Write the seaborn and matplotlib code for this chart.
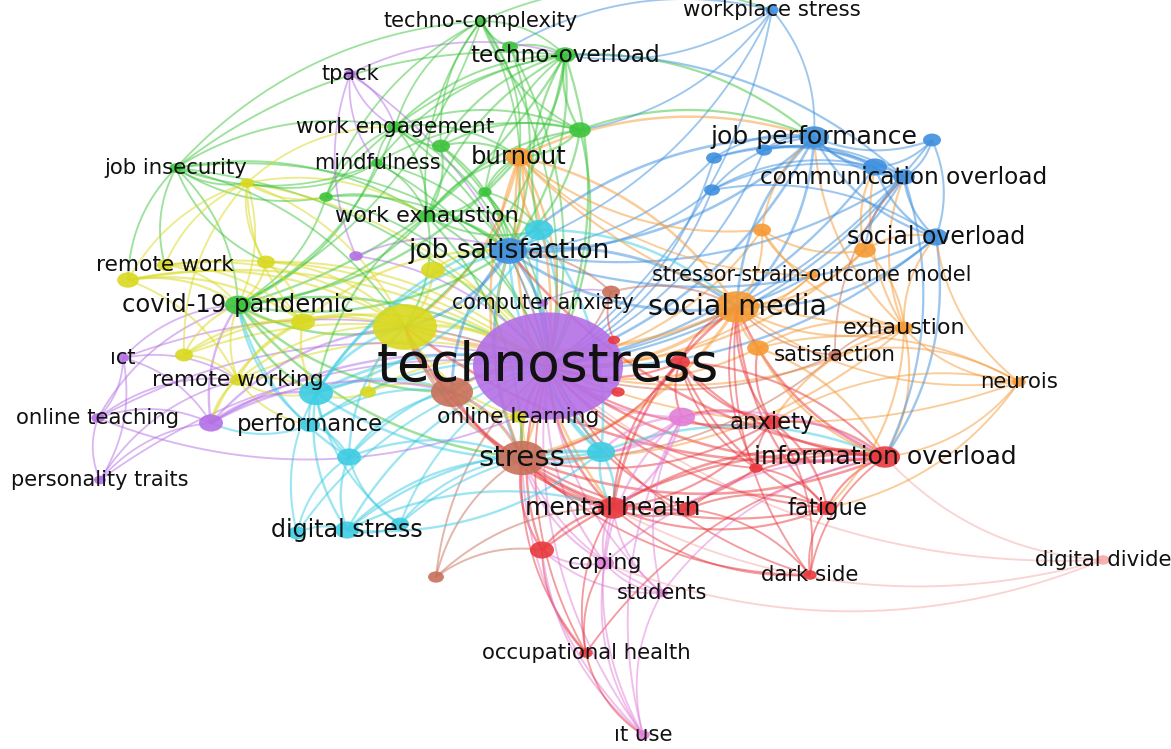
import numpy as np
import pandas as pd
import matplotlib
matplotlib.use("Agg")
import matplotlib.pyplot as plt
import seaborn as sns
from matplotlib.path import Path
from matplotlib.transforms import Affine2D
from matplotlib.collections import LineCollection

# ---------------- data ----------------
ids = ["T", "tc", "g1", "to", "we", "g2", "mf", "g3", "g4", "g5", "wx", "ji", "cv",
       "y1", "yb", "y2", "y3", "rw", "y4", "y5", "y6", "rwk", "y7", "ol",
       "tp", "p1", "ict", "ot", "p2", "pt", "ca",
       "c1", "c2", "pf", "c3", "c4", "c5", "ds", "c6",
       "ws", "js", "jp", "b1", "b2", "b3", "b4", "b5", "co", "so",
       "bo", "o1", "o2", "ss", "sm", "ex", "o3", "sat", "nr",
       "br1", "br2", "st", "br3",
       "r1", "r2", "r3", "ax", "pk1", "io", "r4", "mh", "r5", "fa", "r6", "dsd", "oh",
       "cp", "stu", "iu", "dd"]
labels = ["technostress", "techno-complexity", "", "techno-overload", "work engagement", "",
          "mindfulness", "", "", "", "work exhaustion", "job insecurity", "covid-19 pandemic",
          "", "", "", "", "remote work", "", "", "", "remote working", "", "online learning",
          "tpack", "", "\u0131ct", "online teaching", "", "personality traits", "computer anxiety",
          "", "", "performance", "", "", "", "digital stress", "",
          "workplace stress", "job satisfaction", "job performance", "", "", "", "", "",
          "communication overload", "social overload",
          "burnout", "", "", "stressor-strain-outcome model", "social media", "exhaustion", "",
          "satisfaction", "neurois",
          "", "", "stress", "",
          "", "", "", "anxiety", "", "information overload", "", "mental health", "", "fatigue",
          "", "dark side", "occupational health",
          "coping", "students", "\u0131t use", "digital divide"]
xs = [548, 481, 510, 565, 395, 441, 377, 580, 485, 326, 427, 176, 238,
      247, 405, 433, 266, 165, 128, 303, 184, 238, 368, 518,
      350, 356, 123, 98, 211, 100, 543,
      539, 316, 310, 349, 601, 297, 347, 400,
      772, 509, 814, 932, 764, 714, 712, 875, 904, 936,
      519, 762, 865, 812, 737, 904, 758, 835, 1019,
      611, 452, 522, 436,
      614, 618, 680, 772, 682, 885, 756, 613, 688, 827, 542, 810, 586,
      605, 662, 643, 1103]
ys = [366, 21, 47, 55, 127, 146, 163, 130, 192, 197, 216, 168, 305,
      183, 327, 270, 262, 265, 280, 322, 355, 380, 392, 417,
      74, 256, 358, 418, 423, 480, 303,
      230, 393, 425, 457, 452, 533, 530, 524,
      10, 251, 137, 140, 150, 158, 190, 167, 177, 237,
      157, 230, 250, 275, 307, 328, 348, 355, 382,
      292, 392, 458, 577,
      340, 392, 362, 422, 417, 457, 468, 508, 509, 508, 550, 575, 653,
      563, 593, 735, 560]
weights = [625, 4, 7, 13, 7, 9, 4, 13, 5, 5, 9, 5, 19,
           5, 114, 16, 9, 7, 13, 16, 9, 7, 7, 7,
           4, 5, 4, 5, 16, 4, 3,
           22, 32, 11, 16, 22, 9, 16, 9,
           5, 36, 25, 9, 7, 7, 7, 16, 13, 16,
           19, 9, 13, 4, 54, 9, 13, 5, 5,
           9, 49, 64, 7,
           4, 5, 11, 11, 19, 25, 5, 25, 11, 11, 16, 5, 5,
           9, 4, 5, 5]
clusters = ["purple", "green", "green", "green", "green", "green", "green", "green", "green", "green",
            "green", "green", "green",
            "yellow", "yellow", "yellow", "yellow", "yellow", "yellow", "yellow", "yellow", "yellow",
            "yellow", "yellow",
            "purple", "purple", "purple", "purple", "purple", "purple", "purple",
            "cyan", "cyan", "cyan", "cyan", "cyan", "cyan", "cyan", "cyan",
            "blue", "blue", "blue", "blue", "blue", "blue", "blue", "blue", "blue", "blue",
            "orange", "orange", "orange", "orange", "orange", "orange", "orange", "brown", "orange",
            "brown", "brown", "brown", "brown",
            "red", "red", "red", "red", "pink", "red", "red", "red", "red", "red", "red", "red", "red",
            "pink", "pink", "pink", "lpink"]

links = {
    "T": "ALL",
    "cv": "ji g5 we mf wx y1 y3 rw y4 y5 y6 rwk yb c2 pf p2 ot ict js st br2 bo to tc c3",
    "yb": "y1 y2 y3 rw y4 y5 y6 rwk y7 ol ji wx js st br2 sm c2 c3 mh io bo p2 to",
    "js": "tc g1 to we g2 mf g3 g4 g5 wx ji bo jp ws b3 b4 c1 c2 sm st br2 ol io so co y2 y5 p1 c4",
    "st": "mh r6 br3 oh cp stu io fa ax c4 c3 ds c6 pk1 r5 dsd sm bo wx ol br2 iu sat ex r3",
    "sm": "io ex nr o3 sat o1 o2 ss so co jp bo ax r4 fa dsd mh r3 br1 js c1",
    "io": "ax r4 mh r5 fa dsd nr dd ex o3 so co r6 oh cp stu pk1 r3 c4",
    "mh": "r5 r6 cp stu oh fa dsd ax pk1 c4 br3 iu r4 ds dd",
    "jp": "ws b1 b2 b3 b4 b5 co so to g3 sm o1 ex bo js",
    "b5": "b1 b2 co so o2 ex b3 b4",
    "co": "so b1 b2 b3 b4 o2 ex sat to",
    "so": "b1 o2 ex b4 nr",
    "bo": "wx we g3 to tc g2 g4 o1 ss ex st mh c1",
    "to": "tc g1 g3 we g2 mf wx g4 g5 ji ws c1 tp",
    "tc": "g1 g3 we wx g2 ji g5",
    "g3": "we g2 wx g4 mf ws",
    "wx": "we g2 mf g4 g5 ji y1 c1 c2",
    "we": "g2 mf g5 ji y1 tp",
    "ji": "g5 y1 y4 rw y3 mf",
    "y1": "y3 rw y4 y5 y6 g5 mf",
    "y5": "y3 rw y4 y6 rwk p2 c2",
    "rwk": "y6 ict ot p2 c2 pf y4 pt",
    "c2": "pf c3 ds c5 c6 c1 y7 p2 c4 rwk",
    "c3": "ds c5 c6 pf",
    "ds": "c5 c6 c4",
    "p2": "ot ict pt pf",
    "ot": "ict pt ol",
    "pt": "ict",
    "tp": "mf p1 we",
    "r6": "cp oh iu br3 stu",
    "cp": "stu iu oh dd",
    "stu": "iu",
    "oh": "iu",
    "fa": "dsd r5 r4 ax ex nr",
    "dsd": "r5 ax",
    "ex": "nr o2 o3 sat ax",
    "nr": "sat o3 ax",
    "o1": "o2 ss ex",
    "ws": "g1 tc",
    "c4": "c1 ds c6 mh pk1",
    "br2": "ol c2 y7 c3 pf p2 mh",
    "r3": "ax io mh fa r4 pk1",
    "pk1": "cp stu iu ax c4",
    "c1": "c2 wx g4 c4",
    "br1": "ca js r1",
    "o3": "ax io",
    "ax": "r4 pk1",
}

palette = {"red": "#e8383d", "green": "#3cc43c", "blue": "#3d8fde", "yellow": "#d9d91f",
           "purple": "#b46fe6", "cyan": "#3dcde3", "orange": "#f59a34", "brown": "#c8705a",
           "pink": "#e27fd8", "lpink": "#f6a9a9"}

# ---------------- build ----------------
df = pd.DataFrame({"id": ids, "label": labels, "x": xs, "y": ys, "w": weights, "cluster": clusters})
idx = {k: i for i, k in enumerate(ids)}
rx = 3.0 * np.sqrt(df["w"].values)  # horizontal radius in px

W, H = 1171, 749
fig = plt.figure(figsize=(W / 100, H / 100), dpi=100)
ax = fig.add_axes([0, 0, 1, 1])
ax.set_xlim(0, W)
ax.set_ylim(H, 0)
ax.axis("off")

# edges (curved links)
segs, cols, lws = [], [], []
t = np.linspace(0, 1, 40)[:, None]
pairs = []
for s, tg in links.items():
    targets = [k for k in ids if k != s] if tg == "ALL" else tg.split()
    for k in targets:
        pairs.append((s, k))
for a, b in pairs:
    i, j = idx[a], idx[b]
    p0 = np.array([xs[i], ys[i]], float)
    p1 = np.array([xs[j], ys[j]], float)
    d = p1 - p0
    L = np.hypot(*d)
    if L == 0:
        continue
    perp = np.array([-d[1], d[0]]) / L
    c = (p0 + p1) / 2 + perp * 0.2 * L
    pts = (1 - t) ** 2 * p0 + 2 * (1 - t) * t * c + t ** 2 * p1
    segs.append(pts)
    k = i if weights[i] <= weights[j] else j
    cols.append(matplotlib.colors.to_rgba(palette[clusters[k]], 0.5))
    lws.append(min(2.4, 0.9 + 0.2 * np.sqrt(min(weights[i], weights[j]))))
ax.add_collection(LineCollection(segs, colors=cols, linewidths=lws, zorder=1))

# nodes (ellipses, as in the stretched reference)
ell = Path.unit_circle().transformed(Affine2D().scale(1.4, 1.0))
s_min = (2 * 3 * np.sqrt(min(weights)) * 0.72) ** 2
s_max = (2 * 3 * np.sqrt(max(weights)) * 0.72) ** 2
sns.scatterplot(data=df, x="x", y="y", hue="cluster", palette=palette, size="w",
                sizes=(s_min, s_max), marker=ell, linewidth=0, alpha=0.9,
                legend=False, ax=ax, zorder=3)
ax.set_xlim(0, W)
ax.set_ylim(H, 0)

# labels
for i, lab in enumerate(labels):
    if not lab:
        continue
    fs = 13.0 + 0.34 * rx[i]
    ax.text(xs[i], ys[i], lab, ha="center", va="center", fontsize=fs,
            color="#111111", family="DejaVu Sans", zorder=5)

fig.savefig("out.png", dpi=100, facecolor="white")
